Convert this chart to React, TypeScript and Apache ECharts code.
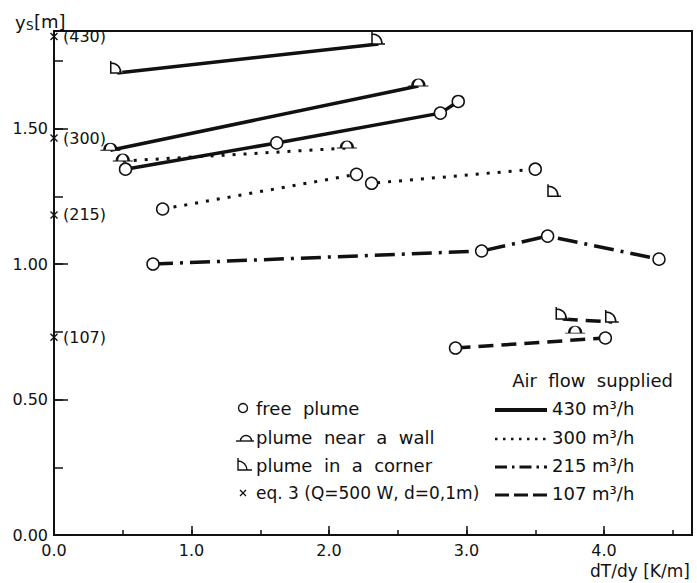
import React, { useEffect, useRef } from 'react';
import * as echarts from 'echarts';

// ---- data ----
const free430 = [[0.52, 1.35], [1.62, 1.447], [2.81, 1.557], [2.94, 1.6]];
const wall430 = [[0.41, 1.42], [2.65, 1.657]];
const corner430 = [[0.46, 1.705], [2.36, 1.812]];
const free300 = [[0.79, 1.203], [2.2, 1.331], [2.31, 1.298], [3.5, 1.35]];
const wall300 = [[0.5, 1.38], [2.13, 1.428]];
const corner300 = [[3.64, 1.25]];
const free215 = [[0.72, 1.0], [3.11, 1.048], [3.59, 1.103], [4.4, 1.018]];
const free107 = [[2.92, 0.69], [4.01, 0.727]];
const wall107 = [[3.79, 0.745]];
const corner107 = [[3.7, 0.797], [4.06, 0.786]];

const eq3Y = [1.84, 1.465, 1.181, 0.73];
const eq3Labels = ['(430)', '(300)', '(215)', '(107)'];

const flowLabels = ['430 m³/h', '300 m³/h', '215 m³/h', '107 m³/h'];
const typeLabels = ['free  plume', 'plume  near  a  wall', 'plume  in  a  corner', 'eq. 3 (Q=500 W, d=0,1m)'];

const X_MAX = 4.64;
const Y_MAX = 1.86;

const INK = '#111';
const FONT = 'DejaVu Sans';

const WALL_PATH = 'path://M0,8 L20,8 M4,8 C4,0 16,0 16,8';
const CORNER_PATH = 'path://M0,0 L0,12 L13,12 M0,2 C6,2 10,6 10,12';
const CROSS_PATH = 'path://M0,0 L8,8 M8,0 L0,8';

const flowLine: Record<string, any> = {
  '430': { type: 'solid', width: 3.5 },
  '300': { type: [3, 8], width: 3 },
  '215': { type: [20, 7, 3, 7], width: 3.5 },
  '107': { type: [15, 8], width: 3.5 },
};

const typeSymbol: Record<string, any> = {
  free: { symbol: 'circle', symbolSize: 12, symbolOffset: [0, 0] },
  wall: { symbol: WALL_PATH, symbolSize: [20, 7], symbolOffset: [0, '-50%'] },
  corner: { symbol: CORNER_PATH, symbolSize: [13, 12], symbolOffset: [0, '-50%'] },
};

const groups: { flow: string; type: string; data: number[][] }[] = [
  { flow: '430', type: 'free', data: free430 },
  { flow: '430', type: 'wall', data: wall430 },
  { flow: '430', type: 'corner', data: corner430 },
  { flow: '300', type: 'free', data: free300 },
  { flow: '300', type: 'wall', data: wall300 },
  { flow: '300', type: 'corner', data: corner300 },
  { flow: '215', type: 'free', data: free215 },
  { flow: '107', type: 'free', data: free107 },
  { flow: '107', type: 'wall', data: wall107 },
  { flow: '107', type: 'corner', data: corner107 },
];

function isMult(v: number, step: number) {
  const r = v / step;
  return Math.abs(r - Math.round(r)) < 1e-6;
}

export default function App() {
  const ref = useRef<HTMLDivElement>(null);

  useEffect(() => {
    if (!ref.current) return;
    const chart = echarts.init(ref.current, undefined, { renderer: 'svg' });

    const lineSeries = groups.map((g) => ({
      type: 'line',
      xAxisIndex: 0,
      yAxisIndex: 0,
      data: g.data,
      showSymbol: true,
      ...typeSymbol[g.type],
      lineStyle: { color: INK, width: flowLine[g.flow].width, type: flowLine[g.flow].type, cap: 'butt' },
      itemStyle: { color: '#fff', borderColor: INK, borderWidth: 1.5 },
      z: 3,
      clip: false,
    }));

    const eqSeries = {
      type: 'scatter',
      xAxisIndex: 0,
      yAxisIndex: 0,
      data: eq3Y.map((y, i) => ({ value: [0, y], name: eq3Labels[i] })),
      symbol: CROSS_PATH,
      symbolSize: 7,
      itemStyle: { color: 'none', borderColor: INK, borderWidth: 1.4, opacity: 1 },
      label: {
        show: true,
        position: 'right',
        distance: 3,
        formatter: '{b}',
        fontFamily: FONT,
        fontSize: 16,
        color: INK,
        opacity: 1,
        textBorderWidth: 0,
      },
      clip: false,
      z: 4,
    };

    const legendRows = [408, 437, 465, 493];
    const lx = 256;
    const rx0 = 495;
    const rx1 = 547;
    const legendLines = [
      { w: 4, dash: null },
      { w: 2.5, dash: [2.5, 5.5] },
      { w: 3, dash: [12, 5, 2.5, 5] },
      { w: 3, dash: [14, 5] },
    ];

    const graphic: any[] = [
      { type: 'text', left: 15, top: 13, style: { text: 'y', fontFamily: FONT, fontSize: 18, fill: INK } },
      { type: 'text', left: 26, top: 20, style: { text: 'S', fontFamily: FONT, fontSize: 12, fill: INK } },
      { type: 'text', left: 34, top: 12, style: { text: '[m]', fontFamily: FONT, fontSize: 18, fill: INK } },
      { type: 'text', left: 590, top: 562, style: { text: 'dT/dy [K/m]', fontFamily: FONT, fontSize: 17, fill: INK } },
      {
        type: 'text',
        x: 673,
        y: 380,
        style: { text: 'Air  flow  supplied', fontFamily: FONT, fontSize: 18, fill: INK, align: 'right', verticalAlign: 'middle' },
      },
      // legend markers (left column)
      { type: 'circle', shape: { cx: 243, cy: legendRows[0], r: 4.5 }, style: { fill: 'none', stroke: INK, lineWidth: 1.4 } },
      { type: 'line', shape: { x1: 236, y1: legendRows[1] + 4, x2: 254, y2: legendRows[1] + 4 }, style: { stroke: INK, lineWidth: 1.4 } },
      {
        type: 'arc',
        shape: { cx: 246, cy: legendRows[1] + 4, r: 5.5, startAngle: Math.PI, endAngle: 2 * Math.PI, clockwise: true },
        style: { fill: 'none', stroke: INK, lineWidth: 1.4 },
      },
      {
        type: 'polyline',
        shape: { points: [[238, legendRows[2] - 7], [238, legendRows[2] + 5], [252, legendRows[2] + 5]] },
        style: { fill: 'none', stroke: INK, lineWidth: 1.4 },
      },
      {
        type: 'arc',
        shape: { cx: 238, cy: legendRows[2] + 5, r: 9, startAngle: 1.5 * Math.PI, endAngle: 2 * Math.PI, clockwise: true },
        style: { fill: 'none', stroke: INK, lineWidth: 1.4 },
      },
      { type: 'line', shape: { x1: 240, y1: legendRows[3] - 3, x2: 246, y2: legendRows[3] + 3 }, style: { stroke: INK, lineWidth: 1.3 } },
      { type: 'line', shape: { x1: 246, y1: legendRows[3] - 3, x2: 240, y2: legendRows[3] + 3 }, style: { stroke: INK, lineWidth: 1.3 } },
    ];

    typeLabels.forEach((t, i) => {
      graphic.push({
        type: 'text',
        x: lx,
        y: legendRows[i],
        style: { text: t, fontFamily: FONT, fontSize: i === 3 ? 17 : 18, fill: INK, verticalAlign: 'middle' },
      });
    });
    flowLabels.forEach((t, i) => {
      const ls = legendLines[i];
      graphic.push({
        type: 'line',
        shape: { x1: rx0, y1: legendRows[i] + 2, x2: rx1, y2: legendRows[i] + 2 },
        style: { stroke: INK, lineWidth: ls.w, lineDash: ls.dash || undefined },
      });
      graphic.push({
        type: 'text',
        x: 552,
        y: legendRows[i],
        style: { text: t, fontFamily: FONT, fontSize: 18, fill: INK, verticalAlign: 'middle' },
      });
    });

    const axisBase = {
      type: 'value',
      min: 0,
      splitLine: { show: false },
      axisLine: { show: true, onZero: false, lineStyle: { color: INK, width: 2 } },
    };

    chart.setOption({
      animation: false,
      backgroundColor: '#fff',
      textStyle: { fontFamily: FONT },
      grid: { left: 54, top: 31, right: 5, bottom: 48, show: true, borderColor: INK, borderWidth: 2 },
      xAxis: [
        {
          ...axisBase,
          max: X_MAX,
          interval: 1,
          position: 'bottom',
          axisTick: { show: true, inside: true, length: 9, lineStyle: { color: INK, width: 1.5 } },
          axisLabel: {
            show: true,
            margin: 7,
            fontSize: 16,
            color: INK,
            fontFamily: FONT,
            showMaxLabel: false,
            formatter: (v: number) => (isMult(v, 1) ? v.toFixed(1) : ''),
          },
        },
        {
          ...axisBase,
          max: X_MAX,
          interval: 0.5,
          position: 'bottom',
          axisTick: { show: true, inside: true, length: 5, lineStyle: { color: INK, width: 1.5 } },
          axisLabel: { show: false },
        },
      ],
      yAxis: [
        {
          ...axisBase,
          max: Y_MAX,
          interval: 0.5,
          position: 'left',
          axisTick: { show: true, inside: true, length: 14, lineStyle: { color: INK, width: 1.5 } },
          axisLabel: {
            show: true,
            margin: 6,
            fontSize: 16,
            color: INK,
            fontFamily: FONT,
            showMaxLabel: false,
            formatter: (v: number) => (isMult(v, 0.5) ? v.toFixed(2) : ''),
          },
        },
        {
          ...axisBase,
          max: Y_MAX,
          interval: 0.25,
          position: 'left',
          axisTick: { show: true, inside: true, length: 9, lineStyle: { color: INK, width: 1.5 } },
          axisLabel: { show: false },
        },
      ],
      series: [...lineSeries, eqSeries],
      graphic,
    } as any);

    return () => chart.dispose();
  }, []);

  return <div ref={ref} style={{ position: 'fixed', left: 0, top: 0, width: 697, height: 583 }} />;
}
